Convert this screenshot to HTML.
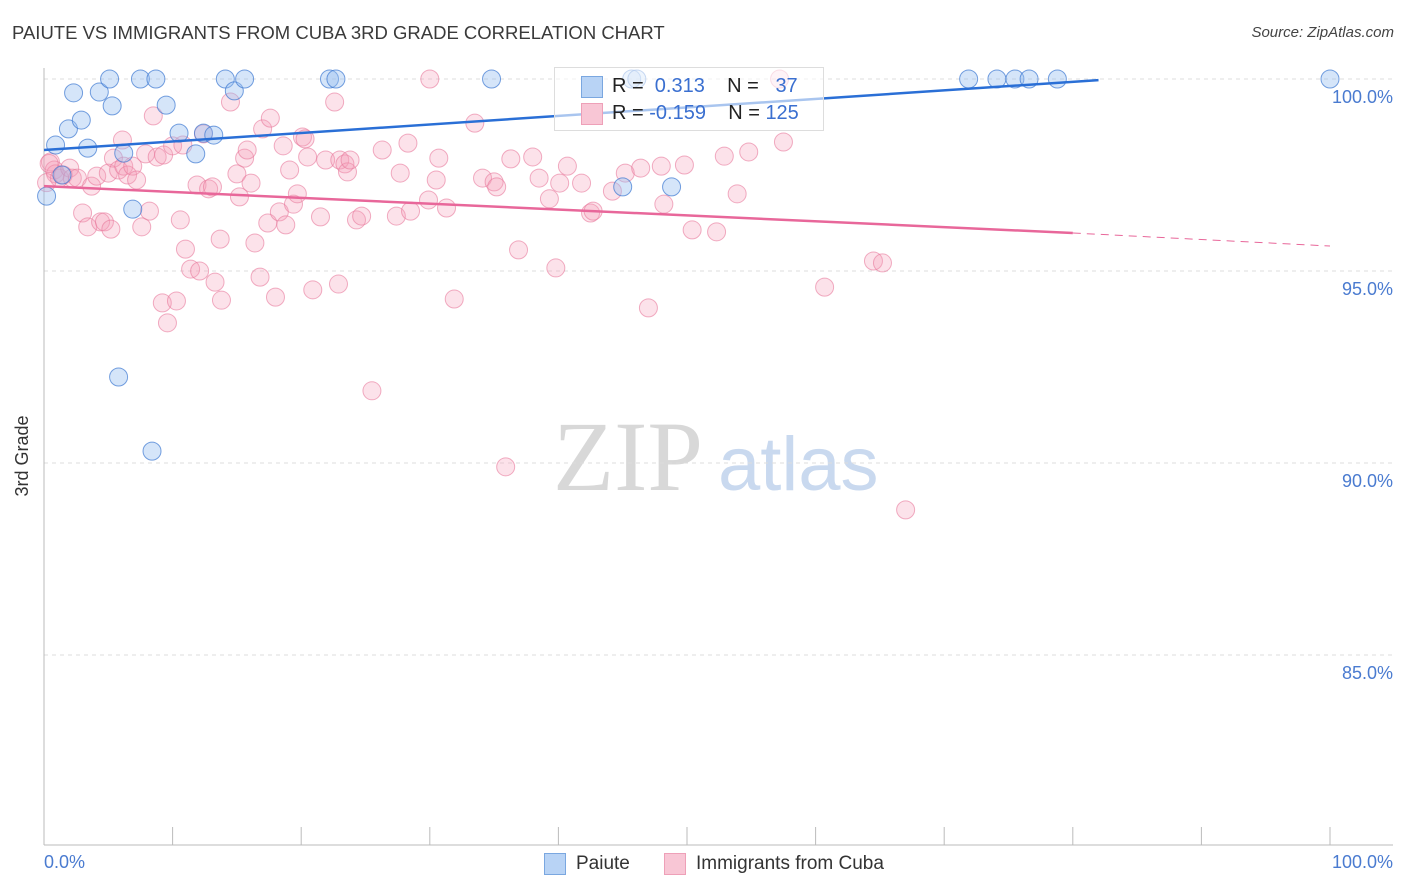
<!DOCTYPE html>
<html><head><meta charset="utf-8"><style>
body{margin:0;width:1406px;height:892px;background:#fff;font-family:"Liberation Sans",sans-serif;overflow:hidden;position:relative}
.t{position:absolute;white-space:nowrap}
</style></head><body>
<div class="t" style="left:12px;top:22px;font-size:18.5px;color:#3a3a3a">PAIUTE VS IMMIGRANTS FROM CUBA 3RD GRADE CORRELATION CHART</div>
<div class="t" style="right:12px;top:24px;font-size:15px;color:#444;font-style:italic">Source: ZipAtlas.com</div>
<svg id="chart" width="1406" height="892" style="position:absolute;left:0;top:0">
<text x="553" y="490" font-family="Liberation Serif,serif" font-size="100" fill="#d8d8d8">ZIP</text>
<text x="718" y="490" font-family="Liberation Sans,sans-serif" font-size="76" fill="#c9d9ef">atlas</text>
<g id="grid"></g><g id="pts"></g><g id="lines"></g>
<text x="28" y="456" transform="rotate(-90 28 456)" text-anchor="middle" font-size="18" fill="#333">3rd Grade</text>
</svg>
<div style="position:absolute;left:554px;top:67px;width:268px;height:62px;border:1px solid #ddd;background:rgba(255,255,255,0.6);font-size:20px">
<div style="position:absolute;left:26px;top:8px;width:20px;height:20px;background:#b8d3f5;border:1px solid #7aa7e0"></div>
<div class="t" style="left:57px;top:7px;color:#222">R = &nbsp;<span style="color:#3a6fd0">0.313</span>&nbsp;&nbsp;&nbsp; N = &nbsp;&nbsp;<span style="color:#3a6fd0">37</span></div>
<div style="position:absolute;left:26px;top:35px;width:20px;height:20px;background:#f8c6d5;border:1px solid #eea0b8"></div>
<div class="t" style="left:57px;top:34px;color:#222">R = <span style="color:#3a6fd0">-0.159</span>&nbsp;&nbsp;&nbsp; N = <span style="color:#3a6fd0">125</span></div>
</div>
<div class="t" style="left:44px;top:852px;font-size:18px;color:#4a7bd0">0.0%</div>
<div class="t" style="right:13px;top:852px;font-size:18px;color:#4a7bd0">100.0%</div>
<div style="position:absolute;left:544px;top:853px;width:20px;height:20px;background:#b8d3f5;border:1px solid #7aa7e0"></div>
<div class="t" style="left:576px;top:853px;font-size:19px;color:#333">Paiute</div>
<div style="position:absolute;left:664px;top:853px;width:20px;height:20px;background:#f8c6d5;border:1px solid #eea0b8"></div>
<div class="t" style="left:696px;top:853px;font-size:19px;color:#333">Immigrants from Cuba</div>
<script>
const yTicks=[100,95,90,85];
const yTickLabels=["100.0%","95.0%","90.0%","85.0%"];
const xTicks=[0,10,20,30,40,50,60,70,80,90,100];
const paiuteX=[0.2,0.9,1.9,2.3,2.9,3.4,4.3,5.1,5.3,6.2,6.9,7.5,8.7,9.5,10.5,11.8,12.4,13.2,14.1,14.8,15.6,5.8,8.4,22.2,22.7,34.8,45.0,48.8,45.7,46.1,71.9,74.1,75.5,76.6,78.8,100,1.4];
const paiuteY=[96.95,98.28,98.70,99.64,98.93,98.20,99.66,100,99.30,98.07,96.61,100,100,99.32,98.59,98.05,98.59,98.54,100,99.69,100,92.24,90.31,100,100,100,97.19,97.19,100,100,100,100,100,100,100,100,97.50];
const cubaX=[0.5,0.8,0.9,1.2,1.5,2.0,2.2,2.6,3.0,3.4,3.7,4.1,4.4,4.7,5.0,5.2,5.4,5.8,6.1,6.2,6.5,6.9,7.2,7.6,7.9,8.2,8.5,8.8,9.3,9.6,9.2,10.3,10.0,10.6,10.8,11.0,11.4,11.9,12.1,12.4,12.8,13.1,13.3,13.7,13.8,14.5,15.0,15.2,15.6,15.8,16.1,16.4,16.8,17.0,17.4,17.6,18.0,18.3,18.6,18.8,19.1,19.4,19.7,20.1,20.3,20.5,20.9,21.5,21.9,22.6,22.9,23.0,23.4,23.6,23.8,24.3,24.7,25.5,26.3,27.4,27.7,28.3,28.5,30.0,29.9,30.5,30.7,31.3,31.9,33.5,34.1,35.0,35.2,35.9,36.3,36.9,38.0,38.5,39.3,39.8,40.1,40.7,41.8,42.5,42.7,44.2,45.2,46.4,47.0,48.0,48.2,49.8,50.4,52.3,52.9,53.9,54.8,57.5,60.7,64.5,65.2,67.0,57.2,0.2,0.4];
const cubaY=[97.84,97.63,97.53,97.42,97.50,97.68,97.42,97.42,96.51,96.15,97.21,97.47,96.28,96.28,97.55,96.09,97.94,97.63,98.41,97.73,97.50,97.73,97.37,96.15,98.05,96.56,99.04,97.97,98.02,93.65,94.17,94.22,98.26,96.33,98.28,95.57,95.05,97.24,95.00,98.57,97.14,97.19,94.71,95.83,94.24,99.40,97.53,96.93,97.94,98.15,97.29,95.73,94.84,98.70,96.25,98.98,94.32,96.54,98.26,96.20,97.63,96.74,97.01,98.49,98.44,97.97,94.51,96.41,97.89,99.40,94.66,97.89,97.79,97.58,97.89,96.33,96.43,91.88,98.15,96.43,97.55,98.33,96.56,100,96.85,97.37,97.94,96.64,94.27,98.85,97.42,97.32,97.19,89.90,97.92,95.55,97.97,97.42,96.88,95.08,97.29,97.73,97.29,96.51,96.56,97.08,97.55,97.68,94.04,97.73,96.74,97.76,96.07,96.02,97.99,97.01,98.10,98.36,94.58,95.26,95.21,88.78,100,97.30,97.80];
const paiuteTrend=[[0,98.15],[82,99.97]];
const cubaTrend=[[0,97.21],[80,95.99]];
const cubaTrendExt=[[80,95.99],[100,95.65]];
const NS="http://www.w3.org/2000/svg";
const sx=v=>44+v*12.86, sy=v=>79+(100-v)*38.4;
function mk(tag,attrs,parent){const e=document.createElementNS(NS,tag);for(const k in attrs)e.setAttribute(k,attrs[k]);document.getElementById(parent).appendChild(e);return e;}
yTicks.forEach((t,i)=>{
  const l=mk('line',{x1:44,x2:1393,y1:sy(t),y2:sy(t),stroke:'#ddd','stroke-dasharray':'4,4'},'grid');
  
  
  const tx=mk('text',{x:1393,y:sy(t)+24,'text-anchor':'end','font-size':18,fill:'#4a7bd0'},'grid');
  tx.textContent=yTickLabels[i];
  
  
});
const ax=mk('line',{x1:44,x2:44,y1:68,y2:845,stroke:'#bbb'},'grid');


const bx=mk('line',{x1:44,x2:1393,y1:845,y2:845,stroke:'#bbb'},'grid');


xTicks.forEach(t=>{
  const l=mk('line',{x1:sx(t),x2:sx(t),y1:827,y2:845,stroke:'#bbb'},'grid');
  
  
});
cubaX.forEach((x,i)=>{
  const c=mk('circle',{cx:sx(x),cy:sy(cubaY[i]),r:9,fill:'rgba(244,160,185,0.3)',stroke:'rgba(232,120,155,0.6)','stroke-width':1},'pts');
  
  
});
paiuteX.forEach((x,i)=>{
  const c=mk('circle',{cx:sx(x),cy:sy(paiuteY[i]),r:9,fill:'rgba(150,190,240,0.4)',stroke:'rgba(60,120,210,0.7)','stroke-width':1},'pts');
  
  
});
function tl(p,col,dash,name){
  const l=mk('line',{x1:sx(p[0][0]),y1:sy(p[0][1]),x2:sx(p[1][0]),y2:sy(p[1][1]),stroke:col,'stroke-width':dash?1:2.5},'lines');
  if(dash)l.setAttribute('stroke-dasharray','8,6');
  
  
}
tl(paiuteTrend,'#2a6fd6',false,'paiute-trend-line');
tl(cubaTrend,'#e8679a',false,'cuba-trend-line');
tl(cubaTrendExt,'#e8679a',true,'cuba-trend-extension');
</script>
</body></html>
